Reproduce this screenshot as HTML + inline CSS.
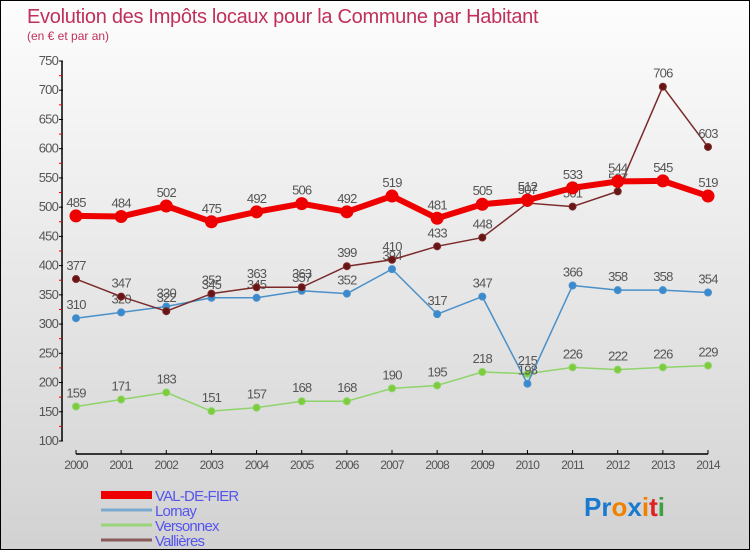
<!DOCTYPE html>
<html><head><meta charset="utf-8"><style>
body{margin:0;}
#wrap{width:750px;height:550px;position:relative;box-sizing:border-box;border:1px solid #000;background:linear-gradient(#fdfdfd,#d2d2d2);font-family:"Liberation Sans",sans-serif;overflow:hidden}
svg text{font-family:"Liberation Sans",sans-serif}
</style></head><body>
<div id="wrap">
<svg id="chart" width="750" height="550">
<text x="26" y="22" font-size="20" fill="#c0305a" letter-spacing="-0.3">Evolution des Impôts locaux pour la Commune par Habitant</text>
<text x="26" y="39" font-size="12" fill="#c0305a">(en € et par an)</text>
</svg>
</div>
<script>
const years=[2000,2001,2002,2003,2004,2005,2006,2007,2008,2009,2010,2011,2012,2013,2014];
const valDeFier=[485,484,502,475,492,506,492,519,481,505,512,533,544,545,519];
const lornay=[310,320,330,345,345,357,352,394,317,347,198,366,358,358,354];
const versonnex=[159,171,183,151,157,168,168,190,195,218,215,226,222,226,229];
const vallieres=[377,347,322,352,363,363,399,410,433,448,507,501,527,706,603];
const yTicks=[100,150,200,250,300,350,400,450,500,550,600,650,700,750];
const NS="http://www.w3.org/2000/svg";
const svg=document.getElementById('chart');
const x0=75,dx=(707-75)/14;
function X(i){return x0+i*dx;}
function Y(v){return 440-(v-100)*380/650;}
function el(t,a,p){const e=document.createElementNS(NS,t);for(const k in a)e.setAttribute(k,a[k]);(p||svg).appendChild(e);return e;}
const ax=el('line',{x1:61,y1:Y(750),x2:61,y2:Y(100),stroke:'#000','stroke-width':1.5});


yTicks.forEach((v,i)=>{
 el('line',{x1:58,y1:Y(v),x2:62,y2:Y(v),stroke:'#000'});
 if(i<yTicks.length-1) el('line',{x1:58,y1:Y(v+25),x2:61,y2:Y(v+25),stroke:'#e00'});
 const t=el('text',{x:57,y:Y(v)+4,'font-size':13,'text-anchor':'end',fill:'#555','letter-spacing':'-0.8'});
 t.textContent=v;
 
 
});
const xa=el('line',{x1:X(0),y1:453,x2:X(14),y2:453,stroke:'#000','stroke-width':1.5});


years.forEach((y,i)=>{
 el('line',{x1:X(i),y1:449,x2:X(i),y2:453,stroke:'#000'});
 const t=el('text',{x:X(i),y:468,'font-size':12,'text-anchor':'middle',fill:'#555','letter-spacing':'-0.8'});
 t.textContent=y;
 
 
});
function series(data,color,dot,w,r,name){
 const g=el('g',{});
 
 
 el('polyline',{points:data.map((v,i)=>X(i)+','+Y(v)).join(' '),fill:'none',stroke:color,'stroke-width':w,'stroke-linejoin':'round'},g);
 data.forEach((v,i)=>{
  const c=el('circle',{cx:X(i),cy:Y(v),r:r,fill:dot,stroke:color,'stroke-width':1},g);
  
  
  const t=el('text',{x:X(i),y:Y(v)-9,'font-size':13,'text-anchor':'middle',fill:'#555','letter-spacing':'-0.8'},g);
  t.textContent=v;
  
  
 });
}
series(versonnex,'#8fd46a','#7ccc3c',1.5,3.5,'versonnex');
series(lornay,'#4a90c8','#3a8ad0',1.5,3.5,'lornay');
series(vallieres,'#7a2a2a','#6a1515',1.5,3.5,'vallieres');
series(valDeFier,'#e00','#e00',6,6,'val-de-fier');
const leg=[['VAL-DE-FIER','#e00',8],['Lornay','#7aaad0',3],['Versonnex','#9ad47a',3],['Vallières','#8a5a5a',3]];
leg.forEach((l,i)=>{
 const y=494+i*15;
 const ln=el('line',{x1:100,y1:y,x2:151,y2:y,stroke:l[1],'stroke-width':l[2]});
 
 
 const t=el('text',{x:154,y:y+6,'font-size':15,fill:'#5555ee','letter-spacing':'-0.8'});
 t.textContent=l[0];
 
 
});
const lg=el('text',{x:583,y:515,'font-size':26,'font-weight':'bold'});


[['Pr','#1a7ad0'],['o','#f08000'],['x','#1a7ad0'],['i','#f08000'],['t','#e02020'],['i','#40a040']].forEach(p=>{const s=el('tspan',{fill:p[1]},lg);s.textContent=p[0];});
</script>
</body></html>
